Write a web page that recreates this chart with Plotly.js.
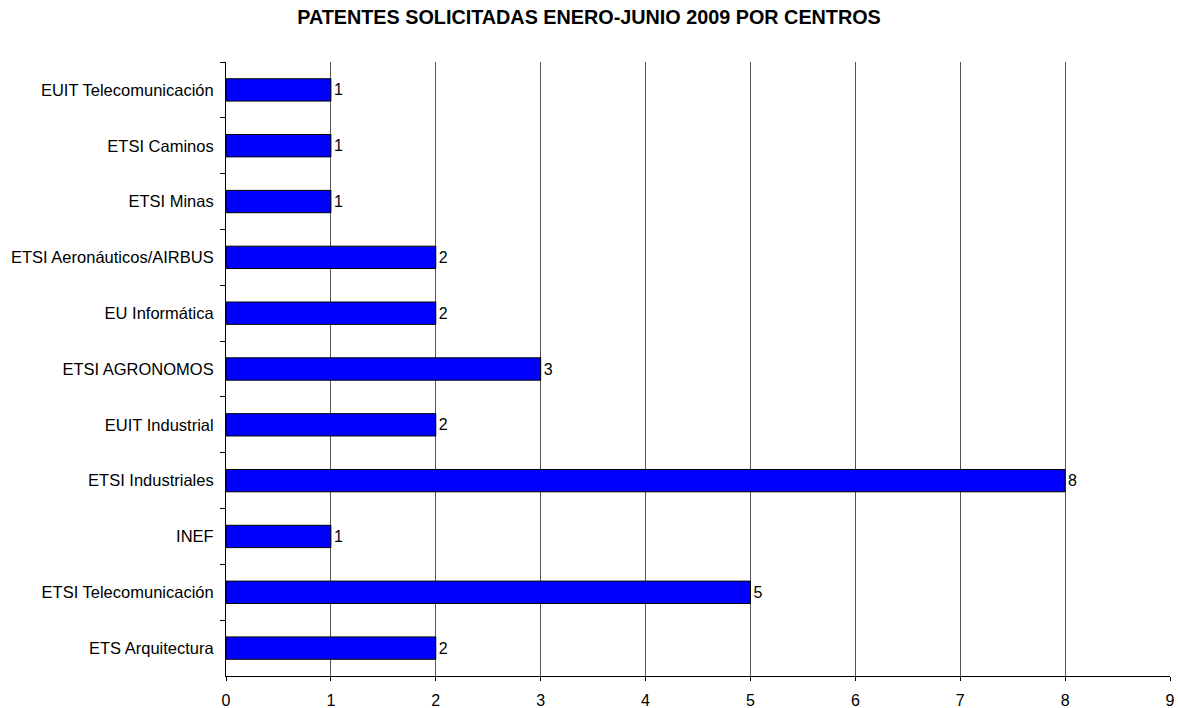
<!DOCTYPE html>
<html><head><meta charset="utf-8">
<script src="https://cdn.plot.ly/plotly-3.0.1.min.js"></script>
<style>html,body{margin:0;padding:0;background:#fff}</style>
</head><body>
<div id="chart" style="width:1178px;height:708px"></div>
<script>
const centros = ["EUIT Telecomunicación","ETSI Caminos","ETSI Minas","ETSI Aeronáuticos/AIRBUS","EU Informática","ETSI AGRONOMOS","EUIT Industrial","ETSI Industriales","INEF","ETSI Telecomunicación","ETS Arquitectura"];
const patentes = [1,1,1,2,2,3,2,8,1,5,2];
const tituloTexto = "PATENTES SOLICITADAS ENERO-JUNIO 2009 POR CENTROS";

const font = "Liberation Sans, Arial, sans-serif";
Plotly.newPlot("chart", [{
  type: "bar", orientation: "h",
  x: patentes, y: centros,
  width: 0.4,
  marker: {color: "#0000FF", line: {color: "#000", width: 1}},
  text: patentes.map(String), textposition: "outside", cliponaxis: false,
  textfont: {family: font, size: 16, color: "#000"},
  hoverinfo: "x+y"
}], {
  width: 1178, height: 708,
  margin: {l: 226, r: 8, t: 62, b: 32},
  paper_bgcolor: "#fff", plot_bgcolor: "#fff",
  showlegend: false,
  title: {text: "<b>" + tituloTexto + "</b>", font: {family: font, size: 19.8, color: "#000"}, x: 0.5, xanchor: "center", y: 0.976, yanchor: "middle"},
  xaxis: {range: [0, 9], dtick: 1, tick0: 0, showgrid: true, gridcolor: "#555", gridwidth: 1,
    zeroline: false, showline: true, linecolor: "#000", linewidth: 1,
    ticks: "outside", ticklen: 4, tickcolor: "#000",
    tickfont: {family: font, size: 16, color: "#000"}, ticklabelstandoff: 6, fixedrange: true},
  yaxis: {type: "category", autorange: "reversed", showgrid: false, zeroline: false,
    showline: true, linecolor: "#000", linewidth: 1,
    ticks: "outside", tickson: "boundaries", ticklen: 5, tickcolor: "#000",
    tickfont: {family: font, size: 16.5, color: "#000"}, ticklabelstandoff: 8, fixedrange: true},
  bargap: 0.6
}, {displayModeBar: false, staticPlot: true});
</script>
</body></html>
